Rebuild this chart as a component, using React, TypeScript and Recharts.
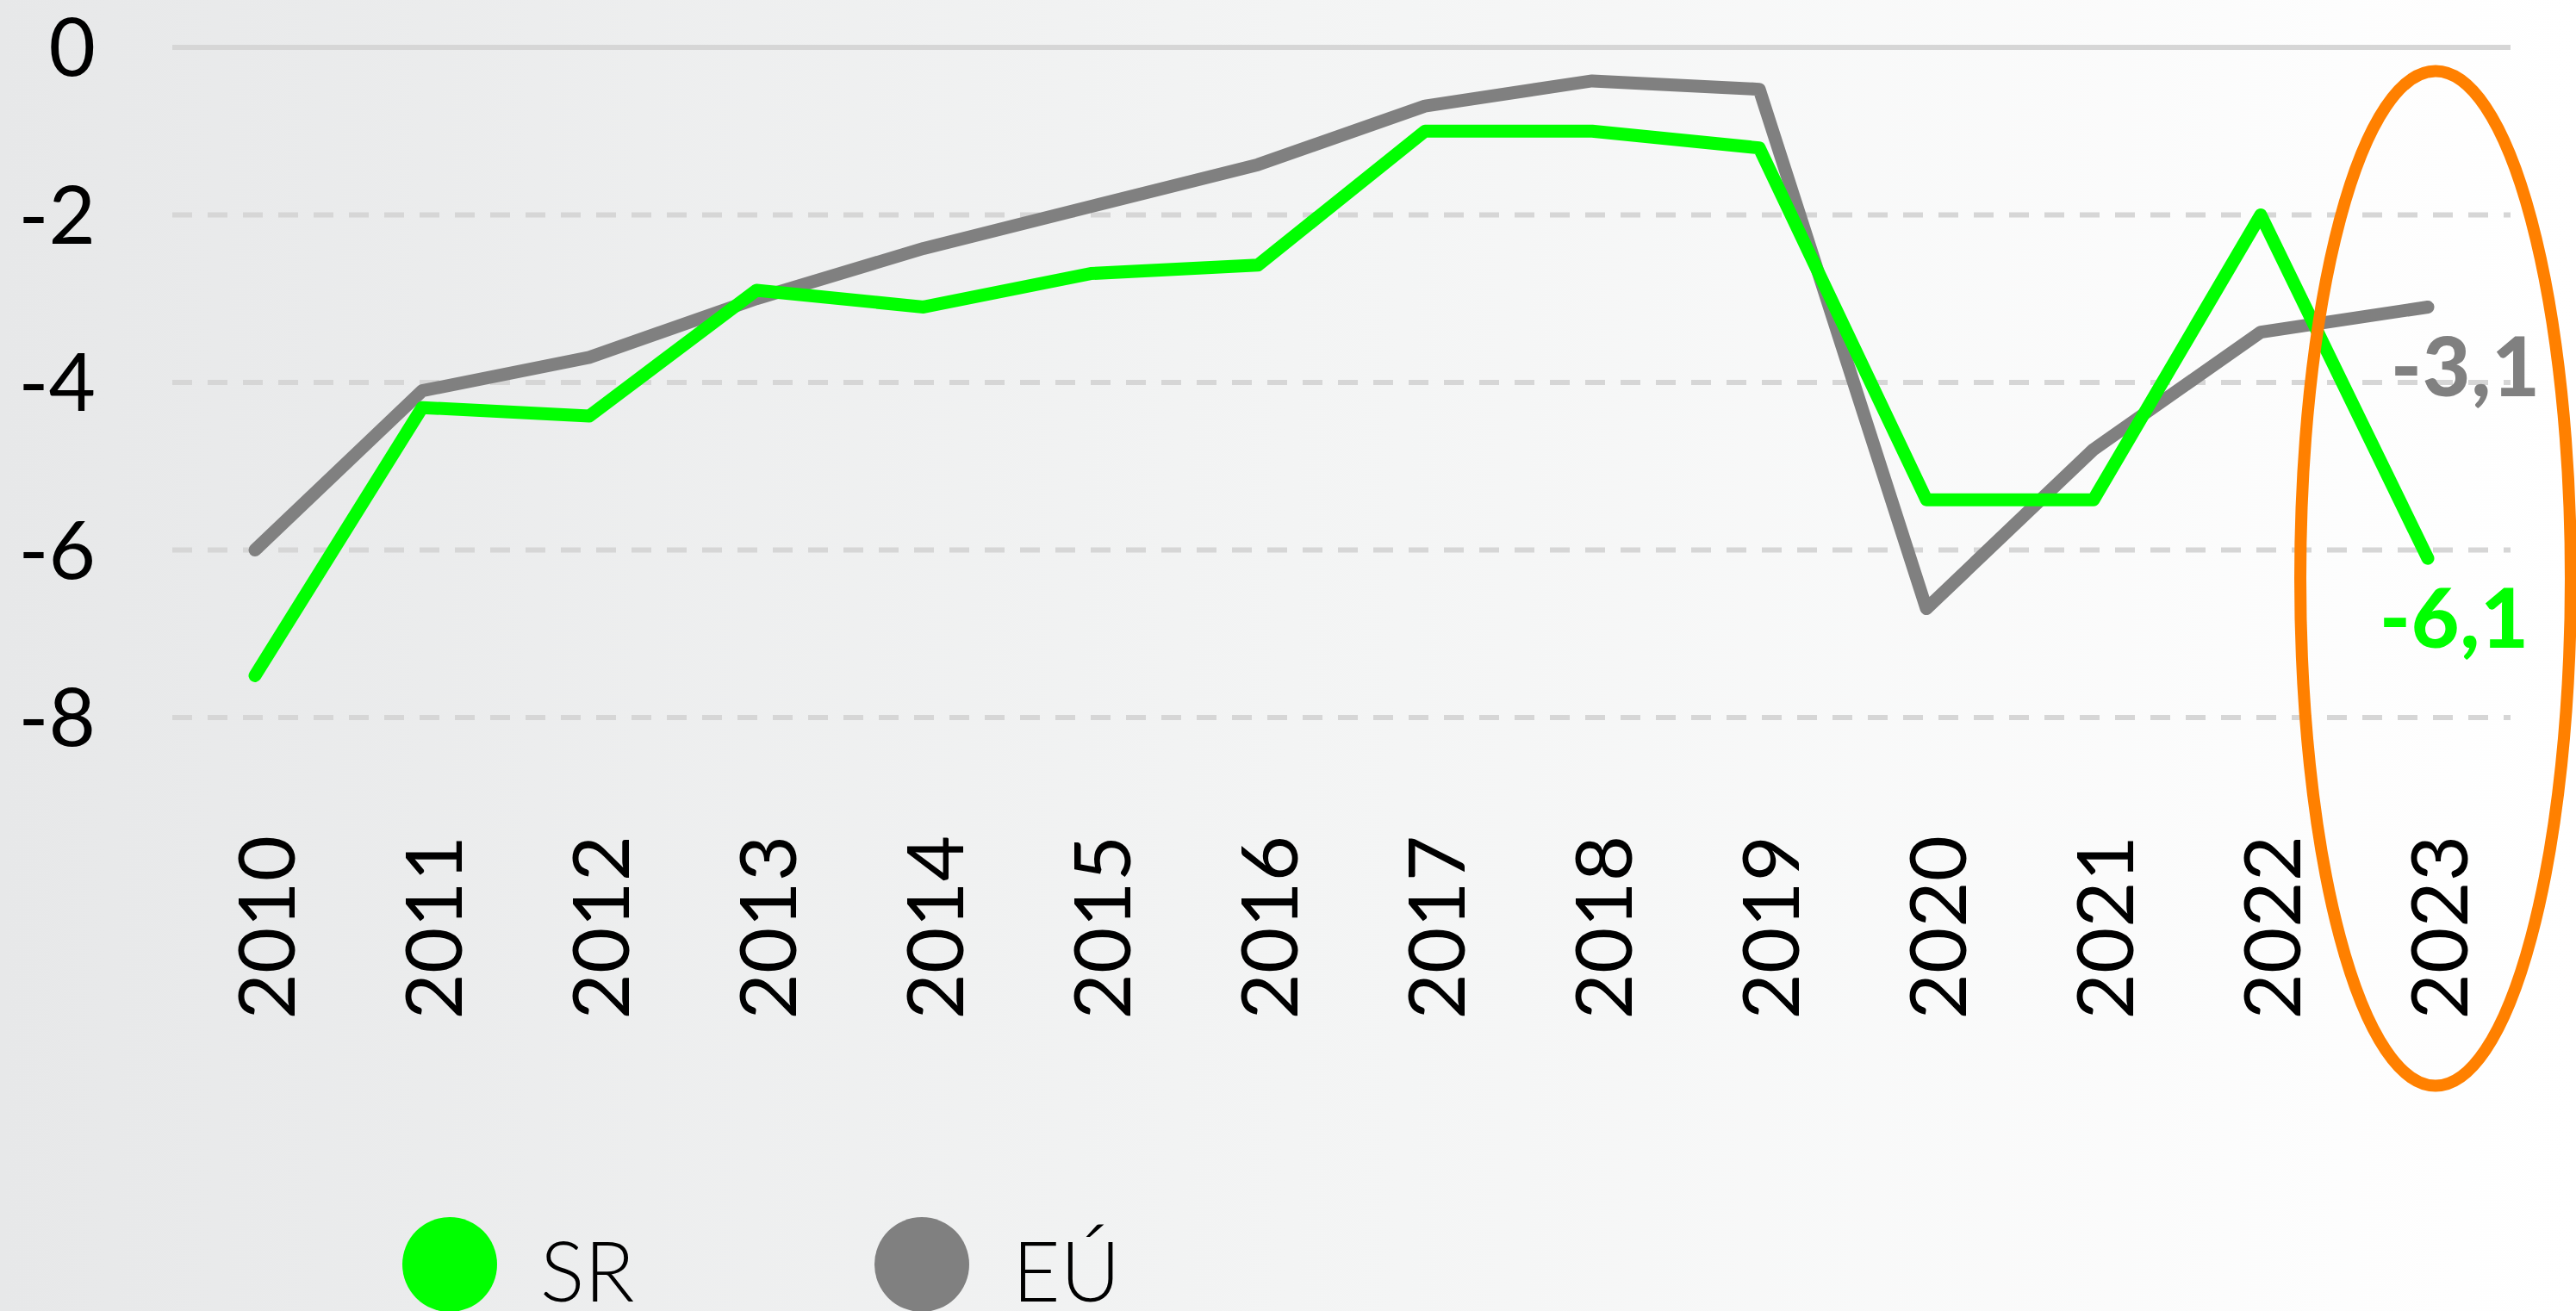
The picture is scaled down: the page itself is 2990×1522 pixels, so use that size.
import { LineChart, Line, XAxis, YAxis, CartesianGrid, ReferenceLine, ReferenceDot, LabelList } from 'recharts'

const years = ['2010', '2011', '2012', '2013', '2014', '2015', '2016', '2017', '2018', '2019', '2020', '2021', '2022', '2023']
const srValues = [-7.5, -4.3, -4.4, -2.9, -3.1, -2.7, -2.6, -1.0, -1.0, -1.2, -5.4, -5.4, -2.0, -6.1]
const euValues = [-6.0, -4.1, -3.7, -3.0, -2.4, -1.9, -1.4, -0.7, -0.4, -0.5, -6.7, -4.8, -3.4, -3.1]
const yTicks = [0, -2, -4, -6, -8]
const seriesNames = ['SR', 'EÚ']
const seriesColors = ['#00ff00', '#808080']

const chartData = years.map((year, i) => ({ year, sr: srValues[i], eu: euValues[i] }))

const FONT = 'Lato, "Open Sans", "DejaVu Sans", sans-serif'

const YearTick = (props: any) => {
  const { x, y, payload } = props
  return (
    <g transform={`translate(${x + 46},${y + 129}) rotate(-90)`}>
      <text x={0} y={0} textAnchor="end" fontSize={92} fontFamily={FONT} fill="#000">
        {payload.value}
      </text>
    </g>
  )
}

const makeEndLabel = (color: string, dx: number, lastIndex: number) => (props: any) => {
  const { x, y, value, index } = props
  if (index !== lastIndex) return null
  return (
    <text x={x + dx} y={y + 104} fontSize={96} fontWeight={900} fontFamily={FONT} fill={color} letterSpacing={1}>
      {String(value).replace('.', ',')}
    </text>
  )
}

const HighlightEllipse = (props: any) => {
  const { cx, cy } = props
  return <ellipse cx={cx + 9} cy={cy} rx={157} ry={589} fill="none" stroke="#ff8000" strokeWidth={14} />
}

export default function App() {
  const lastIndex = years.length - 1
  return (
    <div
      style={{
        position: 'absolute',
        left: 0,
        top: 0,
        width: 2990,
        height: 1522,
        overflow: 'hidden',
        background: 'linear-gradient(to right, #e7e8e9 0%, #f3f4f4 50%, #ffffff 100%)',
      }}
    >
      <LineChart width={2990} height={1522} data={chartData} margin={{ top: 55, right: 76, bottom: 549, left: 0 }}>
        <CartesianGrid
          vertical={false}
          horizontalValues={[-2, -4, -6, -8]}
          stroke="#d6d6d6"
          strokeWidth={6}
          strokeDasharray="23 18"
        />
        <ReferenceLine y={0} stroke="#d6d6d6" strokeWidth={6} />
        <XAxis
          dataKey="year"
          scale="point"
          padding={{ left: 96, right: 96 }}
          axisLine={false}
          tickLine={false}
          interval={0}
          height={140}
          tick={<YearTick />}
        />
        <YAxis
          domain={[-8, 0]}
          ticks={yTicks}
          width={200}
          axisLine={false}
          tickLine={false}
          tickMargin={83}
          tick={{ fontSize: 94, fontFamily: FONT, fill: '#000' }}
        />
        <Line
          dataKey="eu"
          name={seriesNames[1]}
          stroke={seriesColors[1]}
          strokeWidth={15}
          strokeLinecap="round"
          strokeLinejoin="round"
          dot={false}
          isAnimationActive={false}
        >
          <LabelList dataKey="eu" content={makeEndLabel(seriesColors[1], -43, lastIndex)} />
        </Line>
        <Line
          dataKey="sr"
          name={seriesNames[0]}
          stroke={seriesColors[0]}
          strokeWidth={15}
          strokeLinecap="round"
          strokeLinejoin="round"
          dot={false}
          isAnimationActive={false}
        >
          <LabelList dataKey="sr" content={makeEndLabel(seriesColors[0], -56, lastIndex)} />
        </Line>
        <ReferenceDot x="2023" y={-6.34} ifOverflow="visible" shape={<HighlightEllipse />} />
      </LineChart>

      <div style={{ position: 'absolute', left: 467, top: 1413, display: 'flex' }}>
        {seriesNames.map((name, i) => (
          <div key={name} style={{ display: 'flex', alignItems: 'center', width: 548 }}>
            <div style={{ width: 110, height: 110, borderRadius: '50%', background: seriesColors[i] }} />
            <span
              style={{
                marginLeft: 50,
                fontSize: 96,
                fontWeight: 300,
                fontFamily: FONT,
                color: '#000',
                lineHeight: '110px',
                position: 'relative',
                top: 6,
              }}
            >
              {name}
            </span>
          </div>
        ))}
      </div>
    </div>
  )
}
